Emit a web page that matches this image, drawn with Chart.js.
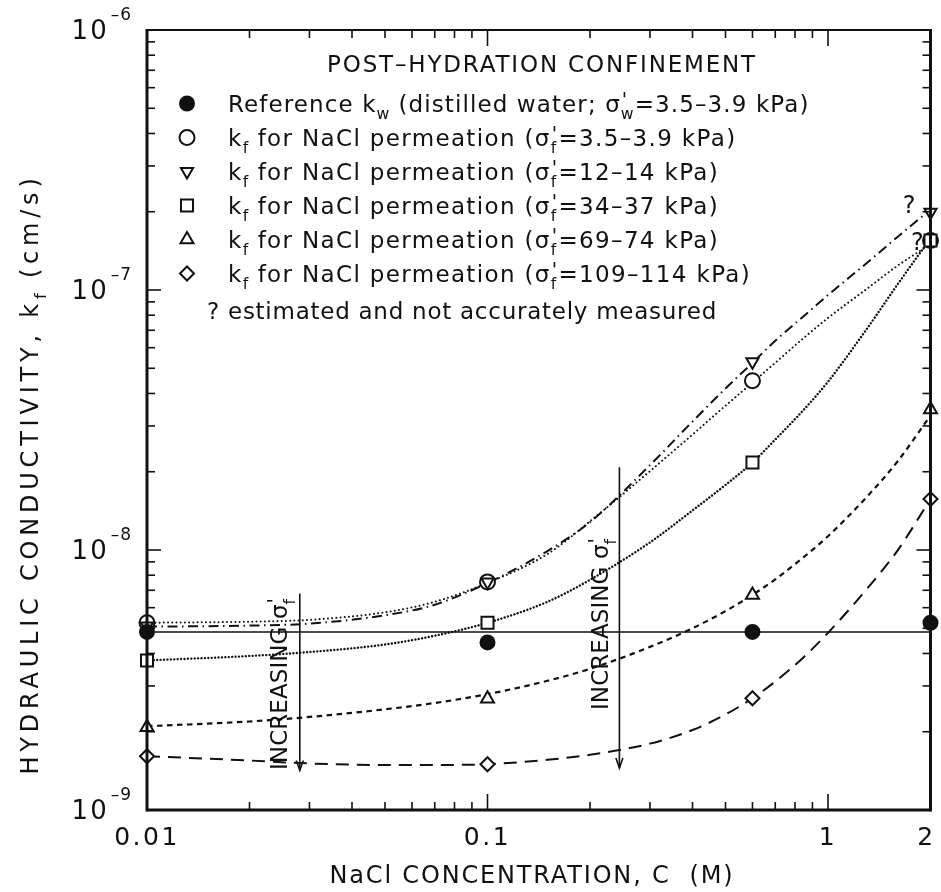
<!DOCTYPE html>
<html><head><meta charset="utf-8">
<script src="https://cdn.jsdelivr.net/npm/chart.js@4/dist/chart.umd.min.js"></script>
<style>html,body{margin:0;padding:0;background:#fff;}canvas{display:block;}</style>
</head><body>
<canvas id="c" width="941" height="892"></canvas>
<script>
// ---------- DATA ----------
const markerX = [0.01, 0.1, 0.6, 2];
const refKw   = [4.84e-9, 4.41e-9, 4.84e-9, 5.25e-9];   // filled circles
const kfS35   = [5.25e-9, 7.54e-9, 4.48e-8, 1.55e-7];   // open circles
const kfS12   = [5.10e-9, 7.54e-9, 5.30e-8, 1.99e-7];   // down triangles
const kfS34   = [3.76e-9, 5.25e-9, 2.17e-8, 1.55e-7];   // squares
const kfS69   = [2.08e-9, 2.68e-9, 6.72e-9, 3.47e-8];   // up triangles
const kfS109  = [1.61e-9, 1.50e-9, 2.69e-9, 1.57e-8];   // diamonds

const refLineX = [0.01, 2];
const refLineY = [4.84e-9, 4.84e-9];

const fitX     = [0.01, 0.02, 0.03, 0.05, 0.07, 0.1, 0.15, 0.2, 0.3, 0.4, 0.5, 0.6, 0.7, 0.85, 1.0, 1.3, 1.6, 2.0];
const fitS35   = [5.25e-9, 5.30e-9, 5.39e-9, 5.76e-9, 6.32e-9, 7.47e-9, 9.65e-9, 1.29e-8, 2.01e-8, 2.78e-8, 3.59e-8, 4.40e-8, 5.25e-8, 6.55e-8, 7.81e-8, 1.01e-7, 1.24e-7, 1.50e-7];
const fitS12   = [5.07e-9, 5.12e-9, 5.21e-9, 5.61e-9, 6.16e-9, 7.47e-9, 9.91e-9, 1.28e-8, 2.12e-8, 3.12e-8, 4.18e-8, 5.25e-8, 6.38e-8, 7.95e-8, 9.56e-8, 1.27e-7, 1.60e-7, 2.04e-7];
const fitS34   = [3.76e-9, 3.91e-9, 4.05e-9, 4.33e-9, 4.68e-9, 5.25e-9, 6.32e-9, 7.68e-9, 1.07e-8, 1.42e-8, 1.78e-8, 2.17e-8, 2.66e-8, 3.47e-8, 4.44e-8, 7.09e-8, 1.05e-7, 1.58e-7];
const fitS69   = [2.10e-9, 2.19e-9, 2.28e-9, 2.44e-9, 2.58e-9, 2.79e-9, 3.14e-9, 3.49e-9, 4.24e-9, 5.00e-9, 5.82e-9, 6.72e-9, 7.71e-9, 9.41e-9, 1.13e-8, 1.60e-8, 2.19e-8, 3.29e-8];
const fitS109  = [1.61e-9, 1.55e-9, 1.51e-9, 1.49e-9, 1.49e-9, 1.50e-9, 1.56e-9, 1.63e-9, 1.80e-9, 2.03e-9, 2.33e-9, 2.69e-9, 3.12e-9, 3.88e-9, 4.80e-9, 7.08e-9, 9.95e-9, 1.57e-8];

const xTickValues = [0.01, 0.1, 1, 2];
const xTickLabels = ['0.01', '0.1', '1', '2'];
const yTickExps   = [-9, -8, -7, -6];

const legendTitle = 'POST–HYDRATION CONFINEMENT';
const legendRows = [
  [['Reference k','n'],['w','sub'],[' (distilled water; σ','n'],["'",'ss','w'],['=3.5–3.9 kPa)','n']],
  [['k','n'],['f','sub'],[' for NaCl permeation (σ','n'],["'",'ss','f'],['=3.5–3.9 kPa)','n']],
  [['k','n'],['f','sub'],[' for NaCl permeation (σ','n'],["'",'ss','f'],['=12–14 kPa)','n']],
  [['k','n'],['f','sub'],[' for NaCl permeation (σ','n'],["'",'ss','f'],['=34–37 kPa)','n']],
  [['k','n'],['f','sub'],[' for NaCl permeation (σ','n'],["'",'ss','f'],['=69–74 kPa)','n']],
  [['k','n'],['f','sub'],[' for NaCl permeation (σ','n'],["'",'ss','f'],['=109–114 kPa)','n']]
];
const legendNote = '? estimated and not accurately measured';
const xTitle = [['NaCl CONCENTRATION, C  (M)','n']];
const yTitle = [['HYDRAULIC CONDUCTIVITY, k','n'],['f','sub'],[' (cm/s)','n']];
const incText = [['INCREASING ','n'],['σ','n'],["'",'ss','f']];
// annotation anchors in data space
const arrows = [{x:0.0281, y1:6.8e-9, y2:1.42e-9}, {x:0.244, y1:2.08e-8, y2:1.45e-9}];
const qMarks = [{x:1.73, y:2.14e-7}, {x:1.83, y:1.53e-7}];

// ---------- STYLES ----------
const INK = '#111';
const FONT = '"DejaVu Sans", "Liberation Sans", sans-serif';

function fitData(ys){ return fitX.map((x,i)=>({x, y:ys[i]})); }
function curve(label, ys, dash, w, cap){
  return {label, data: fitData(ys), borderColor: INK, borderWidth: w, borderDash: dash,
    borderCapStyle: cap || 'butt', pointRadius: 0, fill: false,
    cubicInterpolationMode: 'monotone', order: 10};
}
function marks(label, ys, style, extra){
  return Object.assign({label, data: markerX.map((x,i)=>({x, y: ys[i]})), showLine: false,
    pointStyle: style, pointRadius: 7.5, pointBorderWidth: 2, pointBorderColor: INK,
    pointBackgroundColor: '#fff', clip: false, order: 1}, extra || {});
}

const datasets = [
  {label:'ref line', data: refLineX.map((x,i)=>({x, y: refLineY[i]})), borderColor: INK, borderWidth: 1.6, pointRadius: 0, fill:false, order: 10},
  curve('fit 3.5-3.9', fitS35, [0.01, 4.2], 2.0, 'round'),
  curve('fit 12-14', fitS12, [10, 4.5, 1.5, 4.5], 2.0),
  curve('fit 34-37', fitS34, [0.01, 3.4], 2.4, 'round'),
  curve('fit 69-74', fitS69, [5.5, 4.5], 2.2),
  curve('fit 109-114', fitS109, [13, 8], 2.0),
  marks('Reference kw', refKw, 'circle', {pointRadius: 7, pointBackgroundColor: INK, order: 0}),
  marks('kf 3.5-3.9', kfS35, 'circle', {pointRadius: 7.5, order: 3}),
  marks('kf 12-14', kfS12, 'triangle', {pointRotation: 180, pointRadius: 7, order: 2}),
  marks('kf 34-37', kfS34, 'rect', {pointRadius: 8.5}),
  marks('kf 69-74', kfS69, 'triangle', {pointRadius: 7.5}),
  marks('kf 109-114', kfS109, 'rectRot', {pointRadius: 7})
];

// ---------- RICH TEXT ----------
function setF(ctx, px){ ctx.font = px + 'px ' + FONT; }
function tw(ctx, t, px, ls){ setF(ctx, px); ctx.letterSpacing = '0px'; return ctx.measureText(t).width + ls * [...t].length; }
const SUBK = 0.68;
function partW(ctx, p, size, ls){
  const [t,k,t2] = p;
  if (k === 'n') return tw(ctx, t, size, ls);
  if (k === 'sub' || k === 'sup') return tw(ctx, t, size*SUBK, ls*0.6);
  if (k === 'ss') return Math.max(tw(ctx, t, size*0.85, 0) + 1, tw(ctx, t2, size*SUBK, 0)) + ls;
  return 0;
}
function nChars(parts){ return parts.reduce((s,p)=>s + (p[1]==='n' ? [...p[0]].length : 1), 0); }
function richW(ctx, parts, size, ls){ return parts.reduce((s,p)=>s + partW(ctx,p,size,ls), 0); }
function fitLs(ctx, parts, size, target){ return (target - richW(ctx, parts, size, 0)) / nChars(parts); }
function drawRich(ctx, parts, x, y, size, ls, align){
  const w = richW(ctx, parts, size, ls);
  let cx = align === 'center' ? x - w/2 : (align === 'right' ? x - w : x);
  ctx.textAlign = 'left'; ctx.textBaseline = 'alphabetic';
  for (const p of parts){
    const [t,k,t2] = p;
    if (k === 'n'){ setF(ctx, size); ctx.letterSpacing = ls + 'px'; ctx.fillText(t, cx, y); }
    else if (k === 'sub'){ setF(ctx, size*SUBK); ctx.letterSpacing = (ls*0.6) + 'px'; ctx.fillText(t, cx, y + size*0.33); }
    else if (k === 'sup'){ setF(ctx, size*SUBK); ctx.letterSpacing = (ls*0.6) + 'px'; ctx.fillText(t, cx, y - size*0.45); }
    else if (k === 'ss'){ ctx.letterSpacing = '0px';
      setF(ctx, size*0.85); ctx.fillText(t, cx + 1, y - size*0.25);
      setF(ctx, size*SUBK); ctx.fillText(t2, cx, y + size*0.33); }
    cx += partW(ctx, p, size, ls);
  }
  ctx.letterSpacing = '0px';
}

// ---------- DECORATION PLUGIN ----------
const decor = {
  id: 'decor',
  afterDraw(chart){
    const {ctx, chartArea: a, scales: {x, y}} = chart;
    ctx.save();
    ctx.strokeStyle = INK; ctx.fillStyle = INK;
    const seg = (x1,y1,x2,y2)=>{ ctx.beginPath(); ctx.moveTo(x1,y1); ctx.lineTo(x2,y2); ctx.stroke(); };

    // frame
    ctx.lineWidth = 3;
    seg(a.left, a.top - 1, a.left, a.bottom + 1.5);
    seg(a.right, a.top - 1, a.right, a.bottom + 1.5);
    seg(a.left, a.bottom, a.right, a.bottom);
    ctx.lineWidth = 2.2;
    seg(a.left, a.top, a.right, a.top);

    // inward ticks
    ctx.lineWidth = 1.6;
    for (let d = -2; d <= 0; d++) for (let m = 1; m <= 9; m++){
      const v = m * Math.pow(10, d);
      if (v < 0.01 * 0.999 || v > 2 * 1.001) continue;
      const px = x.getPixelForValue(v), L = m === 1 ? 16 : 8;
      seg(px, a.bottom, px, a.bottom - L); seg(px, a.top, px, a.top + L);
    }
    for (let d = -9; d <= -6; d++) for (let m = 1; m <= 9; m++){
      const v = m * Math.pow(10, d);
      if (v > 1e-6 * 1.001) continue;
      const py = y.getPixelForValue(v), L = m === 1 ? 14 : 8;
      seg(a.left, py, a.left + L, py); seg(a.right, py, a.right - L, py);
    }

    // tick labels
    xTickValues.forEach((v,i)=>{
      let px = x.getPixelForValue(v);
      if (i === xTickValues.length - 1) px -= 4;
      drawRich(ctx, [[xTickLabels[i],'n']], px, a.bottom + 35, 25, 2.5, 'center');
    });
    yTickExps.forEach(e=>{
      const py = y.getPixelForValue(Math.pow(10, e));
      const sup = '–' + Math.abs(e);
      setF(ctx, 17); const ws = ctx.measureText(sup).width + 1;
      const right = a.left - 16;
      setF(ctx, 26); ctx.letterSpacing = '2px'; ctx.textAlign = 'right'; ctx.textBaseline = 'alphabetic';
      ctx.fillText('10', right - ws - 2, py + 9);
      ctx.letterSpacing = '1px'; setF(ctx, 17); ctx.textAlign = 'left';
      ctx.fillText(sup, right - ws, py - 10);
      ctx.letterSpacing = '0px';
    });

    // axis titles
    {
      const ls = fitLs(ctx, xTitle, 24, 405);
      drawRich(ctx, xTitle, 532, 883, 24, ls, 'center');
    }
    {
      const ls = fitLs(ctx, yTitle, 24, 603);
      ctx.save(); ctx.translate(38, 474); ctx.rotate(-Math.PI/2);
      drawRich(ctx, yTitle, 0, 0, 24, ls, 'center');
      ctx.restore();
    }

    // legend
    const LS = 23;
    const titleLs = fitLs(ctx, [[legendTitle,'n']], LS, 430);
    drawRich(ctx, [[legendTitle,'n']], 542, 64 + 8.4, LS, titleLs, 'center');
    const rowLs = fitLs(ctx, legendRows[1], LS, 509);
    const row0Ls = fitLs(ctx, legendRows[0], LS, 582);
    const styles = [
      {pointStyle:'circle', radius:7, fill:true},
      {pointStyle:'circle', radius:7.5},
      {pointStyle:'triangle', radius:7, rotation:180},
      {pointStyle:'rect', radius:8.5},
      {pointStyle:'triangle', radius:7.5},
      {pointStyle:'rectRot', radius:7}
    ];
    legendRows.forEach((parts, i)=>{
      const ry = 103.5 + 34 * i;
      const st = styles[i];
      ctx.lineWidth = 2; ctx.strokeStyle = INK; ctx.fillStyle = st.fill ? INK : '#fff';
      Chart.helpers.drawPoint(ctx, {pointStyle: st.pointStyle, radius: st.radius, rotation: st.rotation || 0, borderWidth: 2}, 187, ry);
      ctx.fillStyle = INK;
      drawRich(ctx, parts, 228, ry + 8.4, LS, i === 0 ? row0Ls : rowLs, 'left');
    });
    const noteLs = fitLs(ctx, [[legendNote,'n']], LS, 510);
    drawRich(ctx, [[legendNote,'n']], 207, 311 + 8.4, LS, noteLs, 'left');

    // question marks
    qMarks.forEach(q=>{
      drawRich(ctx, [['?','n']], x.getPixelForValue(q.x), y.getPixelForValue(q.y) + 8.5, 24, 0, 'center');
    });

    // arrows
    ctx.lineWidth = 1.6;
    arrows.forEach(ar=>{
      const px = x.getPixelForValue(ar.x), p1 = y.getPixelForValue(ar.y1), p2 = y.getPixelForValue(ar.y2);
      seg(px, p1, px, p2);
      ctx.beginPath(); ctx.moveTo(px - 3.5, p2 - 10); ctx.lineTo(px, p2); ctx.lineTo(px + 3.5, p2 - 10); ctx.stroke();
    });

    // INCREASING labels
    const incLs = fitLs(ctx, incText, 23, 172);
    [[287, 770], [608, 710]].forEach(([bx, by])=>{
      ctx.save(); ctx.translate(bx, by); ctx.rotate(-Math.PI/2);
      drawRich(ctx, incText, 0, 0, 23, incLs, 'left');
      ctx.restore();
    });

    ctx.restore();
  }
};

new Chart(document.getElementById('c'), {
  type: 'line',
  data: { datasets },
  options: {
    responsive: false, animation: false, devicePixelRatio: 1,
    layout: { padding: { left: 0, top: 30, right: 4, bottom: 0 } },
    plugins: { legend: { display: false }, tooltip: { enabled: false } },
    scales: {
      x: { type: 'logarithmic', min: 0.01, max: 2,
           grid: { display: false }, border: { display: false }, ticks: { display: false },
           afterFit(s){ s.height = 82; } },
      y: { type: 'logarithmic', min: 1e-9, max: 1e-6,
           grid: { display: false }, border: { display: false }, ticks: { display: false },
           afterFit(s){ s.width = 147; } }
    }
  },
  plugins: [decor]
});
</script>
</body></html>
